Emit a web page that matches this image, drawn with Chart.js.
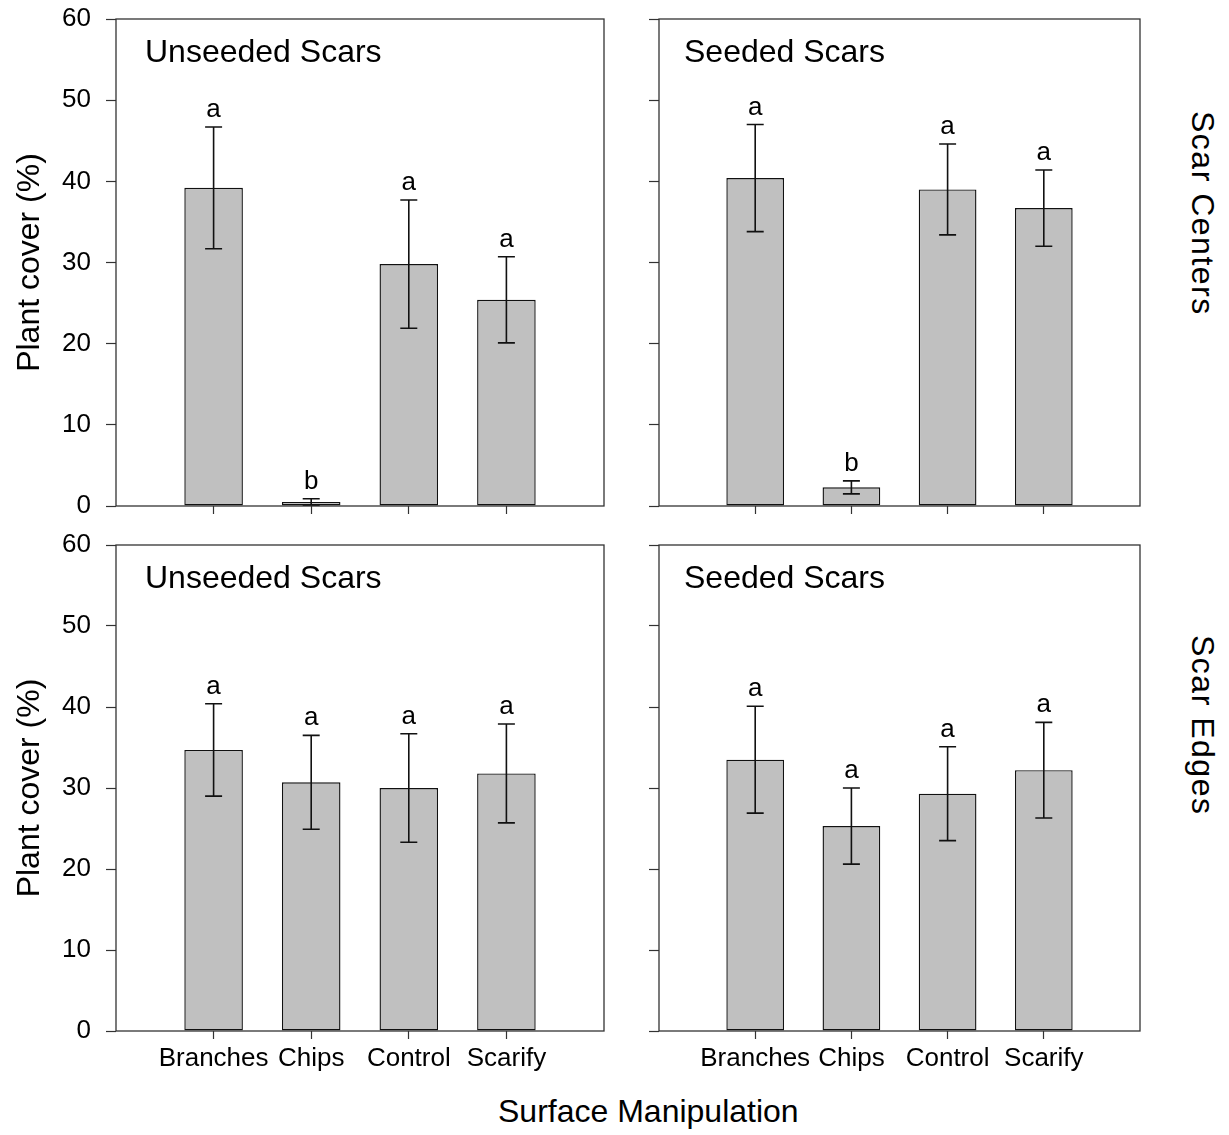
<!DOCTYPE html>
<html>
<head>
<meta charset="utf-8">
<title>Plant cover by surface manipulation</title>
<script src="https://cdn.jsdelivr.net/npm/chart.js@4.4.1/dist/chart.umd.min.js"></script>
<style>
  body { margin: 0; background: #fff; }
  #wrap { position: relative; width: 1229px; height: 1135px; font-family: "Liberation Sans", Arial, sans-serif; color: #000; }
  #wrap canvas { position: absolute; }
  .side { position: absolute; font-size: 32px; writing-mode: vertical-rl; white-space: nowrap; line-height: 1; letter-spacing: 1.5px; }
  #xtitle { position: absolute; left: 498px; top: 1092px; font-size: 32px; white-space: nowrap; line-height: 1.2; }
</style>
</head>
<body>
<div id="wrap">
  <canvas id="c1"></canvas>
  <canvas id="c2"></canvas>
  <canvas id="c3"></canvas>
  <canvas id="c4"></canvas>
  <div class="side" style="left:1187px; top:111px;">Scar Centers</div>
  <div class="side" style="left:1187px; top:635px;">Scar Edges</div>
  <div id="xtitle">Surface Manipulation</div>
</div>
<script>
// --- data (plant cover %, mean and standard error) ---
const categories = ['Branches', 'Chips', 'Control', 'Scarify'];
const yTicks = [0, 10, 20, 30, 40, 50, 60];

const centersUnseededMean = [39.2, 0.5, 29.8, 25.4];
const centersUnseededSE = [7.5, 0.4, 7.9, 5.3];
const centersUnseededLetters = ['a', 'b', 'a', 'a'];

const centersSeededMean = [40.4, 2.3, 39.0, 36.7];
const centersSeededSE = [6.6, 0.8, 5.6, 4.7];
const centersSeededLetters = ['a', 'b', 'a', 'a'];

const edgesUnseededMean = [34.7, 30.7, 30.0, 31.8];
const edgesUnseededSE = [5.7, 5.8, 6.7, 6.1];
const edgesUnseededLetters = ['a', 'a', 'a', 'a'];

const edgesSeededMean = [33.5, 25.3, 29.3, 32.2];
const edgesSeededSE = [6.6, 4.7, 5.8, 5.9];
const edgesSeededLetters = ['a', 'a', 'a', 'a'];

const FONT = '"Liberation Sans", Arial, sans-serif';

// draws error bars, frame, significance letters and the panel title
const panelDecor = {
    id: 'panelDecor',
    afterDatasetsDraw(chart, args, opts) {
        const ctx = chart.ctx;
        const area = chart.chartArea;
        const yScale = chart.scales.y;
        const meta = chart.getDatasetMeta(0);
        ctx.save();

        // error bars
        ctx.strokeStyle = '#111';
        ctx.lineWidth = 1.6;
        meta.data.forEach((bar, i) => {
            const m = opts.mean[i], e = opts.se[i];
            const yTop = yScale.getPixelForValue(m + e);
            const yBot = yScale.getPixelForValue(Math.max(0, m - e));
            ctx.beginPath();
            ctx.moveTo(bar.x, yTop); ctx.lineTo(bar.x, yBot);
            ctx.moveTo(bar.x - 8.5, yTop); ctx.lineTo(bar.x + 8.5, yTop);
            ctx.moveTo(bar.x - 8.5, yBot); ctx.lineTo(bar.x + 8.5, yBot);
            ctx.stroke();
        });

        // frame
        ctx.strokeStyle = '#333';
        ctx.lineWidth = 1.3;
        ctx.strokeRect(area.left, area.top, area.right - area.left, area.bottom - area.top);

        // letters
        ctx.fillStyle = '#000';
        ctx.font = '26px ' + FONT;
        ctx.textAlign = 'center';
        ctx.textBaseline = 'alphabetic';
        meta.data.forEach((bar, i) => {
            const yTop = yScale.getPixelForValue(opts.mean[i] + opts.se[i]);
            ctx.fillText(opts.letters[i], bar.x, yTop - 10);
        });

        // panel title
        ctx.font = '32px ' + FONT;
        ctx.textAlign = 'left';
        ctx.fillText(opts.title, area.left + opts.titleDx, area.top + 43);
        ctx.restore();
    }
};

function makePanel(id, box, area, title, titleDx, mean, se, letters, showYLabels, showXLabels) {
    const canvas = document.getElementById(id);
    canvas.width = box.w; canvas.height = box.h;
    canvas.style.left = box.x + 'px'; canvas.style.top = box.y + 'px';
    canvas.style.width = box.w + 'px'; canvas.style.height = box.h + 'px';

    const yWidth = area.l - box.x;
    const xHeight = box.y + box.h - area.b;

    return new Chart(canvas.getContext('2d'), {
        type: 'bar',
        data: {
            datasets: [{
                data: categories.map((c, i) => ({ x: i + 1, y: mean[i] })),
                backgroundColor: '#c0c0c0',
                borderColor: '#111',
                borderWidth: 1.4,
                borderSkipped: false,
                barPercentage: 0.6,
                categoryPercentage: 1.0
            }]
        },
        options: {
            responsive: false,
            animation: false,
            devicePixelRatio: 1,
            layout: { padding: { top: area.t - box.y, right: box.x + box.w - area.r, left: 0, bottom: 0 } },
            scales: {
                x: {
                    type: 'linear',
                    min: 0, max: categories.length + 1,
                    offset: false,
                    afterBuildTicks: (s) => { s.ticks = categories.map((c, i) => ({ value: i + 1 })); },
                    afterFit: (s) => { s.height = xHeight; s.paddingLeft = 0; s.paddingRight = 0; },
                    grid: { offset: false, drawOnChartArea: false, drawTicks: true, tickLength: 8, tickColor: '#333', tickWidth: 1.2 },
                    border: { display: false },
                    ticks: {
                        autoSkip: false, maxRotation: 0, padding: 4,
                        color: '#000', font: { family: FONT, size: 26 },
                        callback: (v) => showXLabels ? (categories[v - 1] || '') : ''
                    }
                },
                y: {
                    min: 0, max: 60,
                    afterBuildTicks: (s) => { s.ticks = yTicks.map(v => ({ value: v })); },
                    afterFit: (s) => { s.width = yWidth; s.paddingTop = 0; s.paddingBottom = 0; },
                    grid: { drawOnChartArea: false, drawTicks: true, tickLength: 10, tickColor: '#333', tickWidth: 1.2 },
                    border: { display: false },
                    ticks: {
                        padding: 15, color: '#000', font: { family: FONT, size: 26 },
                        callback: (v) => showYLabels ? String(v) : ''
                    },
                    title: {
                        display: showYLabels, text: 'Plant cover (%)', color: '#000',
                        font: { family: FONT, size: 32 }, padding: { top: 11, bottom: 0 }
                    }
                }
            },
            plugins: {
                legend: { display: false },
                tooltip: { enabled: false },
                panelDecor: { title: title, titleDx: titleDx, mean: mean, se: se, letters: letters }
            }
        },
        plugins: [panelDecor]
    });
}

makePanel('c1', { x: 0, y: 0, w: 630, h: 530 }, { l: 116, t: 19, r: 604, b: 506 },
    'Unseeded Scars', 29, centersUnseededMean, centersUnseededSE, centersUnseededLetters, true, false);
makePanel('c2', { x: 630, y: 0, w: 540, h: 530 }, { l: 659, t: 19, r: 1140, b: 506 },
    'Seeded Scars', 25, centersSeededMean, centersSeededSE, centersSeededLetters, false, false);
makePanel('c3', { x: 0, y: 530, w: 630, h: 560 }, { l: 116, t: 545, r: 604, b: 1031 },
    'Unseeded Scars', 29, edgesUnseededMean, edgesUnseededSE, edgesUnseededLetters, true, true);
makePanel('c4', { x: 630, y: 530, w: 540, h: 560 }, { l: 659, t: 545, r: 1140, b: 1031 },
    'Seeded Scars', 25, edgesSeededMean, edgesSeededSE, edgesSeededLetters, false, true);
</script>
</body>
</html>
